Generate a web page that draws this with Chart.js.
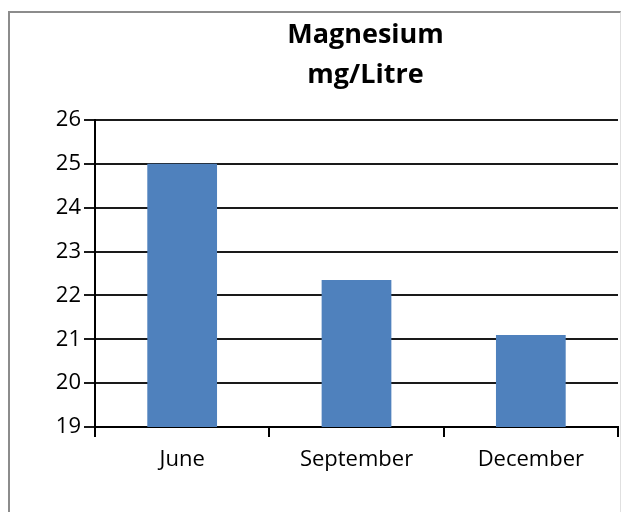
<!DOCTYPE html>
<html>
<head>
<meta charset="utf-8">
<script src="https://cdn.jsdelivr.net/npm/chart.js@4"></script>
<style>
  html, body { margin: 0; padding: 0; background: #fff; }
  #wrap { position: relative; width: 634px; height: 512px; overflow: hidden; }
  #frame { position: absolute; left: 8px; top: 11px; width: 610px; height: 520px;
           border-left: 2px solid #8c8c8c; border-top: 2px solid #8c8c8c; border-right: 1px solid #e0e0e0; }
  canvas { position: absolute; left: 0; top: 0; }
</style>
</head>
<body>
<div id="wrap">
  <div id="frame"></div>
  <canvas id="c" width="634" height="512"></canvas>
</div>
<script>
const titleLines = ["Magnesium", "mg/Litre"];
const categories = ["June", "September", "December"];
const magnesium = [25.0, 22.35, 21.1];
const yMin = 19, yMax = 26, yStep = 1;

const FONT = "'Open Sans', 'Noto Sans', sans-serif";

const titlePlugin = {
  id: 'twoLineTitle',
  afterDraw(chart) {
    const ctx = chart.ctx;
    const a = chart.chartArea;
    ctx.save();
    ctx.font = "bold 27px " + FONT;
    ctx.fillStyle = "#000";
    ctx.textAlign = "center";
    ctx.textBaseline = "alphabetic";
    const cx = (a.left + a.right) / 2 + 9;
    ctx.fillText(titleLines[0], cx, 43);
    ctx.fillText(titleLines[1], cx, 83);
    ctx.restore();
  }
};

new Chart(document.getElementById('c'), {
  type: 'bar',
  data: {
    labels: categories,
    datasets: [{
      data: magnesium,
      backgroundColor: '#4f81bd',
      borderWidth: 0,
      categoryPercentage: 1.0,
      barPercentage: 0.4
    }]
  },
  options: {
    responsive: false,
    animation: false,
    layout: { padding: { top: 120, right: 16, left: 0, bottom: 0 } },
    plugins: { legend: { display: false }, title: { display: false }, tooltip: { enabled: false } },
    scales: {
      x: {
        offset: true,
        grid: { display: true, offset: true, drawOnChartArea: false, drawTicks: true, tickLength: 10, color: '#000', lineWidth: 2 },
        border: { display: true, color: '#000', width: 2 },
        ticks: { color: '#000', font: { family: FONT, size: 22 }, padding: 10 },
        afterFit(s) { s.height = 85; }
      },
      y: {
        min: yMin, max: yMax,
        grid: { color: '#1a1a1a', lineWidth: 2, tickLength: 11, drawTicks: true },
        border: { display: true, color: '#000', width: 2 },
        ticks: { stepSize: yStep, color: '#000', font: { family: FONT, size: 22 }, padding: 3 },
        afterFit(s) { s.width = 95; }
      }
    }
  },
  plugins: [titlePlugin]
});
</script>
</body>
</html>
